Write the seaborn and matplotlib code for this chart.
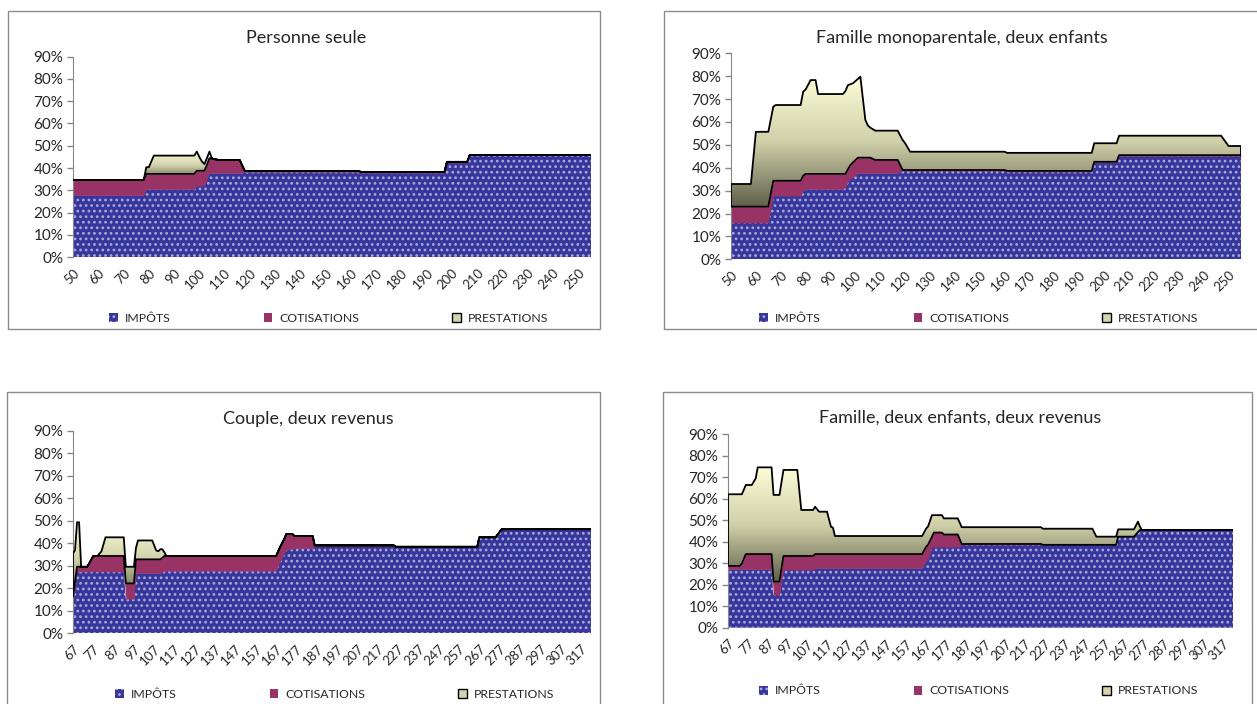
import numpy as np
import matplotlib
matplotlib.use("Agg")
import matplotlib.pyplot as plt
from matplotlib.patches import Patch, PathPatch, Rectangle
from matplotlib.colors import LinearSegmentedColormap
from matplotlib.transforms import ScaledTranslation
import seaborn as sns

sns.set_style("white")
plt.rcParams["font.family"] = ["Lato", "DejaVu Sans"]
plt.rcParams["hatch.linewidth"] = 1.2

# taux en % du revenu, par niveau de revenu (points de rupture)

# Personne seule
seule_revenu = [50, 78, 79, 80, 82, 98, 99, 100, 101, 102, 103, 104, 105, 106, 108, 116, 118, 163, 164, 197, 198, 206, 207, 255]
seule_impots = [27.8, 27.8, 30.5, 30.5, 30.5, 30.5, 32.0, 32.0, 32.0, 32.0, 35.0, 37.7, 37.7, 37.7, 37.7, 37.7, 38.2, 38.2, 37.8, 37.8, 42.3, 42.3, 45.9, 45.9]
seule_cotisations = [6.9, 6.9, 6.9, 6.9, 6.9, 6.9, 6.8, 6.8, 6.8, 6.8, 6.5, 6.7, 6.6, 6.3, 5.9, 5.9, 0.5, 0.5, 0.5, 0.5, 0.5, 0.5, 0.0, 0.0]
seule_prestations = [0.0, 0.0, 3.0, 3.0, 8.2, 8.2, 8.6, 6.2, 4.2, 3.0, 3.0, 3.0, 0.0, 0.0, 0.0, 0.0, 0.0, 0.0, 0.0, 0.0, 0.0, 0.0, 0.0, 0.0]

# Famille monoparentale, deux enfants
mono_revenu = [50, 58, 60, 65, 66, 67, 68, 78, 79, 80, 82, 84, 85, 95, 96, 97, 98, 99, 101, 102, 104, 105, 106, 108, 117, 119, 120, 122, 160, 161, 195, 196, 205, 206, 247, 250, 255]
mono_impots = [16.0, 16.0, 16.0, 16.0, 22.0, 27.7, 27.7, 27.7, 30.0, 30.6, 30.6, 30.6, 30.6, 30.6, 31.5, 34.0, 35.0, 35.8, 37.6, 37.6, 37.6, 37.6, 37.6, 37.6, 37.6, 38.6, 38.6, 38.6, 38.6, 38.2, 38.2, 42.2, 42.2, 45.1, 45.1, 45.1, 45.1]
mono_cotisations = [7.0, 7.0, 7.0, 7.0, 6.6, 6.6, 6.6, 6.6, 6.5, 6.7, 6.7, 6.7, 6.7, 6.7, 5.8, 5.3, 6.2, 6.5, 6.8, 6.8, 6.8, 6.8, 6.8, 5.8, 5.8, 0.4, 0.4, 0.4, 0.4, 0.4, 0.4, 0.4, 0.4, 0.4, 0.4, 0.4, 0.4]
mono_prestations = [9.9, 9.9, 32.7, 32.7, 32.6, 32.4, 33.1, 33.1, 36.7, 36.9, 41.0, 41.0, 34.9, 34.9, 36.2, 36.8, 35.3, 34.6, 34.4, 35.4, 16.5, 14.1, 13.1, 12.8, 12.8, 13.1, 11.7, 8.0, 8.0, 7.9, 7.9, 8.1, 8.1, 8.5, 8.5, 4.0, 4.0]

# Couple, deux revenus
couple_revenu = [67, 68, 69, 70, 71, 74, 77, 79, 81, 83, 92, 93, 97, 98, 99, 106, 108, 109, 110, 111, 112, 113, 167, 169, 171, 172, 175, 176, 185, 186, 225, 226, 266, 267, 275, 278, 322]
couple_impots = [13.5, 20.5, 27.4, 27.4, 27.4, 27.4, 27.4, 27.4, 27.4, 27.4, 27.4, 15.3, 15.3, 26.7, 26.7, 26.7, 26.7, 26.7, 26.7, 27.2, 27.7, 27.7, 27.7, 31.9, 35.5, 37.1, 37.5, 37.8, 37.8, 38.6, 38.6, 38.5, 38.5, 42.7, 42.7, 46.3, 46.3]
couple_cotisations = [2.8, 2.5, 2.2, 2.2, 2.2, 2.2, 7.0, 7.0, 7.0, 7.0, 7.0, 6.9, 6.9, 6.2, 6.2, 6.2, 6.2, 6.2, 6.2, 6.4, 6.7, 6.7, 6.7, 6.6, 6.5, 7.1, 6.7, 5.5, 5.5, 0.5, 0.5, 0.0, 0.0, 0.0, 0.0, 0.0, 0.0]
couple_prestations = [19.3, 14.0, 19.8, 19.8, 0.0, 0.0, 0.0, 0.0, 2.1, 8.3, 8.3, 7.4, 7.4, 5.1, 8.4, 8.4, 3.9, 3.6, 4.5, 3.8, 1.6, 0.0, 0.0, 0.0, 0.0, 0.0, 0.0, 0.0, 0.0, 0.0, 0.0, 0.0, 0.0, 0.0, 0.0, 0.0, 0.0]

# Famille, deux enfants, deux revenus
fam_revenu = [67, 73, 74, 76, 79, 81, 82, 89, 90, 93, 95, 102, 104, 110, 111, 113, 117, 119, 120, 121, 165, 167, 168, 170, 171, 175, 176, 183, 184, 185, 225, 226, 251, 253, 263, 264, 272, 274, 275, 276, 322]
fam_impots = [27.1, 27.1, 27.1, 27.1, 27.1, 27.1, 27.1, 27.1, 15.2, 15.2, 26.8, 26.8, 26.8, 26.8, 27.6, 27.6, 27.6, 27.6, 27.6, 27.6, 27.6, 31.0, 31.5, 37.5, 37.5, 37.5, 37.5, 37.5, 37.5, 38.5, 38.5, 38.5, 38.5, 38.5, 38.5, 42.3, 42.3, 44.4, 45.4, 45.4, 45.4]
fam_cotisations = [1.6, 1.6, 2.7, 7.1, 7.1, 7.1, 7.1, 7.1, 6.2, 6.2, 6.5, 6.5, 6.5, 6.5, 6.6, 6.6, 6.6, 6.6, 6.6, 6.6, 6.6, 6.5, 7.0, 4.8, 6.7, 6.7, 5.8, 5.8, 3.6, 0.4, 0.4, 0.0, 0.0, 0.0, 0.0, 0.0, 0.0, 0.0, 0.0, 0.0, 0.0]
fam_prestations = [33.3, 33.3, 32.2, 32.1, 32.1, 35.2, 40.3, 40.3, 40.3, 40.3, 40.0, 40.0, 21.4, 21.4, 22.0, 19.7, 19.7, 12.7, 12.3, 8.4, 8.4, 8.5, 8.5, 10.0, 8.1, 8.1, 7.5, 7.5, 7.7, 7.8, 7.8, 7.5, 7.5, 3.8, 3.8, 3.4, 3.4, 4.9, 1.6, 0.0, 0.0]

series_labels = ["IMPÔTS", "COTISATIONS", "PRESTATIONS"]
y_ticks = list(range(0, 100, 10))

IMP_FACE = "#36369c"
IMP_DOTS = "#a9a9d6"
COT_FACE = "#993366"
prest_cmap = LinearSegmentedColormap.from_list(
    "prest", [(0.0, "#5f5f4b"), (0.5, "#d0d0aa"), (1.0, "#fcfcd6")])

W, H = 1257, 704
fig = plt.figure(figsize=(W / 100, H / 100), dpi=100)


def fig_box(left, right, top, bottom):
    return [left / W, 1 - bottom / H, (right - left) / W, (bottom - top) / H]


panels = [
    dict(title="Personne seule", x=seule_revenu, imp=seule_impots, cot=seule_cotisations,
         pre=seule_prestations, ticks=range(50, 251, 10),
         axes=(73, 591, 56.6, 257.3), box=(8, 600, 11, 329), title_xy=(306, 38), leg_xy=(329, 318)),
    dict(title="Famille monoparentale, deux enfants", x=mono_revenu, imp=mono_impots,
         cot=mono_cotisations, pre=mono_prestations, ticks=range(50, 251, 10),
         axes=(731, 1241, 53.3, 259.3), box=(664, 1262, 11, 329), title_xy=(962, 38), leg_xy=(979, 318)),
    dict(title="Couple, deux revenus", x=couple_revenu, imp=couple_impots, cot=couple_cotisations,
         pre=couple_prestations, ticks=range(67, 318, 10),
         axes=(73, 591, 431, 633.3), box=(7, 600, 392, 720), title_xy=(308, 419), leg_xy=(335, 694)),
    dict(title="Famille, deux enfants, deux revenus", x=fam_revenu, imp=fam_impots,
         cot=fam_cotisations, pre=fam_prestations, ticks=range(67, 318, 10),
         axes=(728, 1233, 434, 627.7), box=(663, 1252, 392, 720), title_xy=(960, 418), leg_xy=(979, 691)),
]

label_shift = ScaledTranslation(-5 / 100, 0, fig.dpi_scale_trans)

for p in panels:
    # cadre du graphique
    bx = p["box"]
    fig.patches.append(Rectangle((bx[0] / W, 1 - bx[3] / H), (bx[1] - bx[0]) / W, (bx[3] - bx[2]) / H,
                                 transform=fig.transFigure, fill=False, edgecolor="#8c8c8c", linewidth=1.0))

    ax = fig.add_axes(fig_box(*p["axes"]))
    x = np.array(p["x"], dtype=float)
    imp = np.array(p["imp"])
    top_cot = imp + np.array(p["cot"])
    top_all = top_cot + np.array(p["pre"])

    ax.fill_between(x, 0, imp, facecolor=IMP_FACE, edgecolor=IMP_DOTS, hatch="...", linewidth=0, zorder=1)
    ax.fill_between(x, imp, top_cot, facecolor=COT_FACE, linewidth=0, zorder=1)
    poly = ax.fill_between(x, top_cot, top_all, facecolor="none", edgecolor="black", linewidth=1.3, zorder=3)

    # dégradé des prestations
    grad = np.linspace(0, 1, 256).reshape(-1, 1)
    im = ax.imshow(grad, extent=[x.min(), x.max(), top_cot.min(), top_all.max()], origin="lower",
                   aspect="auto", cmap=prest_cmap, interpolation="bilinear", zorder=2)
    clip = PathPatch(poly.get_paths()[0], transform=ax.transData, facecolor="none", edgecolor="none")
    ax.add_patch(clip)
    im.set_clip_path(clip)

    ax.set_xlim(x.min(), x.max())
    ax.set_ylim(0, 90)
    ax.set_yticks(y_ticks)
    ax.set_yticklabels([f"{v}%" for v in y_ticks])
    ax.set_xticks(list(p["ticks"]))
    ax.set_xticklabels([str(t) for t in p["ticks"]], rotation=45, ha="right", rotation_mode="anchor")
    for lab in ax.get_xticklabels():
        lab.set_transform(lab.get_transform() + label_shift)
    ax.tick_params(axis="y", length=4, width=1, color="#868686", pad=3, labelsize=11, left=True)
    ax.tick_params(axis="x", length=0, pad=7, labelsize=9.5)
    sns.despine(ax=ax, top=True, right=True, bottom=True)
    ax.spines["left"].set_color("#868686")
    ax.grid(False)

    fig.text(p["title_xy"][0] / W, 1 - p["title_xy"][1] / H, p["title"], ha="center", va="center", fontsize=13)

    handles = [Patch(facecolor=IMP_FACE, edgecolor=IMP_DOTS, hatch="...", linewidth=0),
               Patch(facecolor=COT_FACE, edgecolor="none"),
               Patch(facecolor="#d4d4ae", edgecolor="black", linewidth=1.0)]
    fig.legend(handles, series_labels, ncol=3, loc="center",
               bbox_to_anchor=(p["leg_xy"][0] / W, 1 - p["leg_xy"][1] / H), frameon=False,
               fontsize=8.8, handlelength=0.7, handleheight=0.7, handletextpad=0.6, columnspacing=7.6)

fig.savefig("out.png", dpi=100)
